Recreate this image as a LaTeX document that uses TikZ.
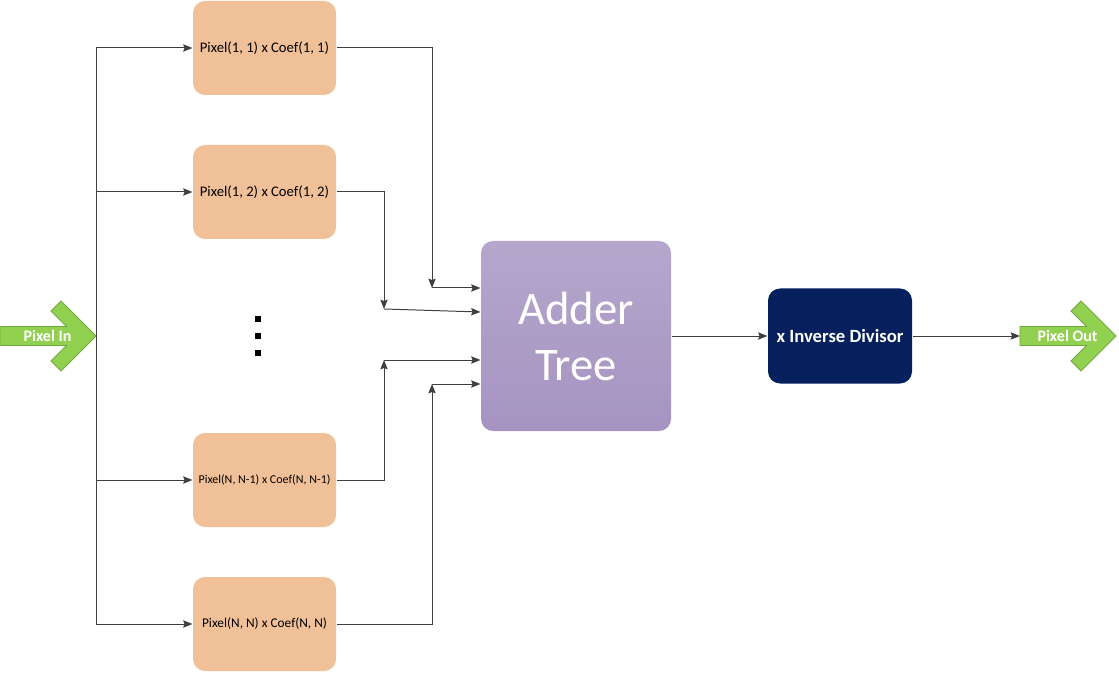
\documentclass[tikz,border=0pt]{standalone}
\usepackage{fontspec}
\setmainfont{Carlito}
\usetikzlibrary{arrows.meta}
\definecolor{wire}{HTML}{404040}
\definecolor{multfill}{HTML}{F0C198}
\definecolor{addtop}{HTML}{B4A7CC}
\definecolor{addbot}{HTML}{A594C1}
\definecolor{divfill}{HTML}{06205E}
\definecolor{chevfill}{HTML}{92D050}
\definecolor{chevline}{HTML}{72A93C}
\begin{document}
\begin{tikzpicture}[x=0.75pt,y=-0.75pt,
    line width=0.75pt,
    >={Stealth[length=7pt,width=5.5pt,inset=1pt]},
    link/.style={draw=wire,->},
    mult/.style={fill=multfill,rounded corners=9pt,minimum width=107.25pt,minimum height=70.5pt,inner sep=0pt},
    chevron/.style={fill=chevfill,draw=chevline,line width=0.6pt,line join=miter},
    chevlabel/.style={text=white,font=\bfseries\fontsize{12}{14}\selectfont,inner sep=0pt}]
  \useasboundingbox (0,0) rectangle (1119,673);

  % in and out arrows
  \foreach \ax/\nm/\txt in {0/pin/Pixel In,1020/pout/Pixel Out}{
    \begin{scope}[shift={(\ax,336)}]
      \draw[chevron] (0,-9.5) -- (66.5,-9.5) -- (51,-25) -- (61,-35) -- (96,0)
        -- (61,35) -- (51,25) -- (66.5,9.5) -- (0,9.5) -- cycle;
      \node[chevlabel] (\nm) at (47.5,0) {\txt};
      \coordinate (\nm-tail) at (0,0);
      \coordinate (\nm-tip) at (96,0);
    \end{scope}
  }

  % multipliers
  \node[mult,font=\fontsize{11}{13}\selectfont] (m11) at (264.5,48) {Pixel(1, 1) x Coef(1, 1)};
  \node[mult,font=\fontsize{11}{13}\selectfont] (m12) at (264.5,192) {Pixel(1, 2) x Coef(1, 2)};
  \node[mult,font=\fontsize{9}{11}\selectfont] (mN1) at (264.5,480) {Pixel(N, N-1) x Coef(N, N-1)};
  \node[mult,font=\fontsize{10}{12}\selectfont] (mNN) at (264.5,624) {Pixel(N, N) x Coef(N, N)};

  % dots
  \foreach \dy in {319,336,353}
    \fill (258,\dy) ++(-3.2,-3.2) rectangle ++(6.4,6.4);

  % adder and divisor
  \node[top color=addtop,bottom color=addbot,rounded corners=9pt,
        minimum width=142.5pt,minimum height=142.5pt,align=center,text=white,
        font=\fontsize{35}{42}\selectfont] (adder) at (576,336) {Adder\\Tree};
  \node[fill=divfill,rounded corners=9pt,minimum width=108pt,minimum height=71.25pt,
        text=white,font=\bfseries\fontsize{14}{16}\selectfont] (div) at (840,336) {x Inverse Divisor};

  % fan out
  \draw[wire] (pin-tip |- m11.west) -- (pin-tip |- mNN.west);
  \foreach \m in {m11,m12,mN1,mNN}
    \draw[link] (pin-tip |- \m.west) -- (\m.west);

  % fan in
  \coordinate (j1) at (432,288);
  \coordinate (j2) at (384,309);
  \coordinate (j3) at (384,360);
  \coordinate (j4) at (432,384);
  \draw[link] (m11.east) -| (j1);
  \draw[link] (m12.east) -| (j2);
  \draw[link] (mN1.east) -| (j3);
  \draw[link] (mNN.east) -| (j4);
  \draw[link] (j1) -- (adder.west |- j1);
  \draw[link] (j2) -- ([yshift=18pt]adder.west);
  \draw[link] (j3) -- (adder.west |- j3);
  \draw[link] (j4) -- (adder.west |- j4);

  \draw[link] (adder.east) -- (div.west);
  \draw[link] (div.east) -- (pout-tail);
\end{tikzpicture}
\end{document}
